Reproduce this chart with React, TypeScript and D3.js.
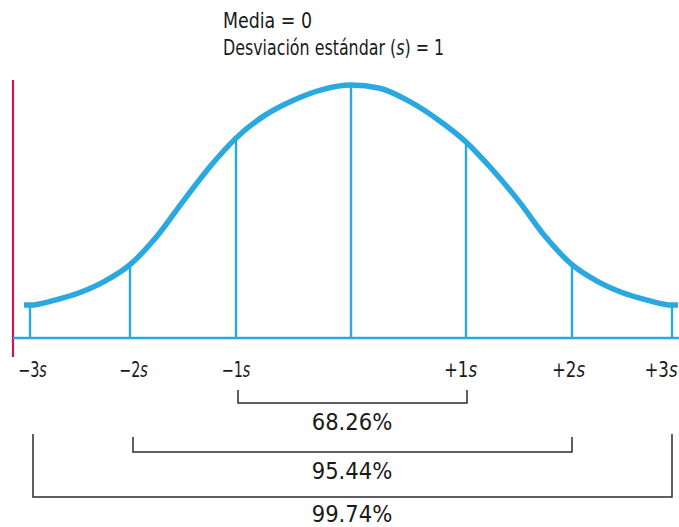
import React from "react";
import * as d3 from "d3";

// Standard-deviation positions and labels
const sigmaSteps = [-3, -2, -1, 0, 1, 2, 3];
const tickLabels = ["−3", "−2", "−1", "", "+1", "+2", "+3"];

// Bell curve (z in sigma units, relative height 0..1)
const curveZ = [-3.06, -3, -2.75, -2.5, -2.25, -2, -1.75, -1.5, -1.25, -1, -0.75, -0.5, -0.25, 0, 0.25, 0.5, 0.75, 1, 1.25, 1.5, 1.75, 2, 2.25, 2.5, 2.75, 3, 3.06];
const curveH = [0.13, 0.13, 0.15, 0.18, 0.225, 0.29, 0.40, 0.54, 0.675, 0.79, 0.88, 0.94, 0.982, 1.0, 0.987, 0.937, 0.865, 0.775, 0.665, 0.54, 0.40, 0.29, 0.225, 0.18, 0.15, 0.13, 0.13];

// Height of vertical marker lines at each sigma step
const markerH = [0.13, 0.29, 0.79, 1.0, 0.775, 0.29, 0.13];

// Brackets
const bracketK = [1, 2, 3];
const bracketLabels = ["68.26%", "95.44%", "99.74%"];

const W = 679;
const H = 527;
const BLUE = "#2aa9e0";
const FONT = "'DejaVu Sans Condensed', 'DejaVu Sans', sans-serif";

export default function App() {
  const x = d3.scaleLinear().domain(sigmaSteps).range([30, 130, 236, 351, 466, 572, 672]);
  const y = d3.scaleLinear().domain([0, 1]).range([338, 85]);

  const pts: [number, number][] = curveZ.map((z, i) => [z, curveH[i]]);
  const line = d3
    .line<[number, number]>()
    .x((d) => x(d[0]))
    .y((d) => y(d[1]))
    .curve(d3.curveMonotoneX);

  const bracketTop = [390, 437, 434];
  const bracketY = [403, 452, 497];
  const labelY = [430, 479, 522];
  const bracketPad = [2, 3, 3];
  const tickShift = [2.5, 3.5, 0, 0, -5.5, -3.5, -11];

  return (
    <div style={{ position: "absolute", left: 0, top: 0 }}>
      <svg width={W} height={H} style={{ display: "block" }} fontFamily={FONT}>
        <rect width={W} height={H} fill="#fff" />
        {/* header */}
        <g transform="translate(223,28) scale(0.9,1)">
          <text x={0} y={0} fontSize={21.5} fill="#1a1a1a">
            Media = 0
          </text>
        </g>
        <g transform="translate(223,55) scale(0.82,1)">
          <text x={0} y={0} fontSize={21.5} fill="#1a1a1a">
            Desviación estándar (<tspan fontStyle="italic">s</tspan>) = 1
          </text>
        </g>

        {/* red vertical axis */}
        <line x1={13} x2={13} y1={80} y2={357} stroke="#c8174f" strokeWidth={2.2} />

        {/* baseline */}
        <line x1={13} x2={W} y1={y(0)} y2={y(0)} stroke={BLUE} strokeWidth={2.6} />

        {/* marker lines */}
        {sigmaSteps.map((s, i) => (
          <line
            key={"m" + s}
            x1={x(s)}
            x2={x(s)}
            y1={y(0)}
            y2={y(markerH[i])}
            stroke={BLUE}
            strokeWidth={2.4}
          />
        ))}

        {/* bell curve */}
        <path d={line(pts) || ""} fill="none" stroke={BLUE} strokeWidth={5.5} strokeLinejoin="round" />

        {/* tick labels */}
        {sigmaSteps.map((s, i) =>
          tickLabels[i] ? (
            <g key={"t" + s} transform={`translate(${x(s) + tickShift[i]},377) scale(${s < 0 ? 0.78 : 0.9},1)`}>
              <text x={0} y={0} fontSize={20.5} textAnchor="middle" fill="#1a1a1a">
                {tickLabels[i]}
                <tspan fontStyle="italic">s</tspan>
              </text>
            </g>
          ) : null
        )}

        {/* brackets */}
        {bracketK.map((k, i) => {
          const x1 = x(-k) + bracketPad[i];
          const x2 = x(k) + (i === 0 ? 1 : 0);
          return (
            <g key={"b" + k}>
              <path
                d={`M${x1},${bracketTop[i]}V${bracketY[i]}H${x2}V${bracketTop[i]}`}
                fill="none"
                stroke="#2b2b2b"
                strokeWidth={1.5}
              />
              <text x={x(0) + 1} y={labelY[i]} fontSize={23.5} textAnchor="middle" fill="#1a1a1a">
                {bracketLabels[i]}
              </text>
            </g>
          );
        })}
      </svg>
    </div>
  );
}
